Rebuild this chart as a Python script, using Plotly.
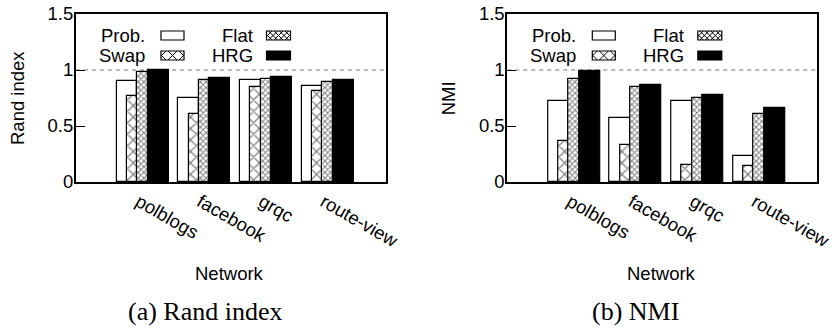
import plotly.graph_objects as go

# ---------------- data ----------------
networks = ["polblogs", "facebook", "grqc", "route-view"]
methods = ["Prob.", "Swap", "Flat", "HRG"]

rand_prob = [0.900, 0.753, 0.908, 0.860]
rand_swap = [0.768, 0.604, 0.848, 0.810]
rand_flat = [0.985, 0.914, 0.920, 0.896]
rand_hrg = [1.000, 0.926, 0.937, 0.911]

nmi_prob = [0.720, 0.574, 0.723, 0.229]
nmi_swap = [0.369, 0.330, 0.152, 0.140]
nmi_flat = [0.920, 0.845, 0.747, 0.604]
nmi_hrg = [0.994, 0.866, 0.774, 0.664]

y_tickvals = [0, 0.5, 1, 1.5]
y_ticktext = ["0", "0.5", "1", "1.5"]

panels = [
    dict(values=[rand_prob, rand_swap, rand_flat, rand_hrg], ytitle="Rand index", caption="(a) Rand index"),
    dict(values=[nmi_prob, nmi_swap, nmi_flat, nmi_hrg], ytitle="NMI", caption="(b) NMI"),
]

# ---------------- layout geometry (pixels) ----------------
W, H = 837, 331
FRAME_L = [76.0, 507.3]
FRAME_W = 309.5
FRAME_T, FRAME_B = 14.0, 182.0
XRANGE = [-1.08, 3.94]
BAR_W = 0.337
STEP = BAR_W / 2
SANS = "Liberation Sans, Arial, sans-serif"
SERIF = "Liberation Serif, Times New Roman, serif"
FS = 18.5


def px(x):
    return x / W


def py(y):
    return 1 - y / H


styles = [
    dict(color="white", pattern=None),
    dict(color="white", pattern=dict(shape="x", size=8.1, solidity=0.28, fgcolor="black", bgcolor="white", fillmode="overlay")),
    dict(color="white", pattern=dict(shape="x", size=4, solidity=0.45, fgcolor="black", bgcolor="white", fillmode="overlay")),
    dict(color="black", pattern=None),
]

fig = go.Figure()
annotations = []
shapes = []


def hatch_path(x0, y0, x1, y1, period):
    cx, cy = (x0 + x1) / 2, (y0 + y1) / 2
    segs = []
    for k in range(-8, 9):
        c = cx - cy + k * period  # x - y = c
        lo, hi = max(x0, y0 + c), min(x1, y1 + c)
        if hi - lo > 0.3:
            segs.append(((lo, lo - c), (hi, hi - c)))
        c2 = cx + cy + k * period  # x + y = c2
        lo, hi = max(x0, c2 - y1), min(x1, c2 - y0)
        if hi - lo > 0.3:
            segs.append(((lo, c2 - lo), (hi, c2 - hi)))
    p = ""
    for (a, b) in segs:
        p += f"M{px(a[0]):.5f},{py(a[1]):.5f} L{px(b[0]):.5f},{py(b[1]):.5f} "
    return p


def text_ann(text, x, y, font, xanchor="center", yanchor="middle", angle=0):
    return dict(text=text, x=px(x), y=py(y), xref="paper", yref="paper",
                xanchor=xanchor, yanchor=yanchor, textangle=angle, showarrow=False,
                font=font)


sans_font = dict(family=SANS, size=FS, color="black")

for i, panel in enumerate(panels):
    xa = "x" if i == 0 else f"x{i+1}"
    ya = "y" if i == 0 else f"y{i+1}"
    for j, (name, vals) in enumerate(zip(methods, panel["values"])):
        st = styles[j]
        marker = dict(color=st["color"], line=dict(color="black", width=1.2))
        if st["pattern"]:
            marker["pattern"] = st["pattern"]
        fig.add_trace(go.Bar(
            x=[k + (j - 1.5) * STEP for k in range(len(networks))],
            y=vals, width=BAR_W, name=name, marker=marker,
            xaxis=xa, yaxis=ya, showlegend=False,
        ))
    L = FRAME_L[i]
    xdom = [px(L), px(L + FRAME_W)]
    ydom = [py(FRAME_B), py(FRAME_T)]
    axis_common = dict(showline=True, linecolor="black", linewidth=2, mirror=True,
                       showgrid=False, zeroline=False, automargin=False,
                       ticklabeloverflow="allow", tickfont=sans_font)
    fig.update_layout({
        ("xaxis" if i == 0 else f"xaxis{i+1}"): dict(
            domain=xdom, range=XRANGE, tickvals=list(range(len(networks))),
            ticktext=networks, tickangle=30, ticks="", anchor=ya,
            ticklabelshift=-4, **axis_common),
        ("yaxis" if i == 0 else f"yaxis{i+1}"): dict(
            domain=ydom, range=[0, 1.5], tickvals=y_tickvals, ticktext=y_ticktext,
            ticks="inside", ticklen=9, tickwidth=1.2, tickcolor="black",
            ticklabelstandoff=-3, anchor=xa, **axis_common),
    })
    # dashed reference line at 1
    shapes.append(dict(type="line", xref=xa, yref=ya, x0=XRANGE[0], x1=XRANGE[1], y0=1, y1=1,
                       line=dict(color="#777777", width=1.2, dash="4px,4px"), layer="below"))
    # axis titles and caption
    annotations.append(text_ann(panel["ytitle"], L - 58, (FRAME_T + FRAME_B) / 2, sans_font, angle=-90))
    annotations.append(text_ann("Network", L + FRAME_W / 2 - 1, 273.5, sans_font))
    cap_x = 205 if i == 0 else 635.8
    annotations.append(text_ann(panel["caption"], cap_x, 311,
                                dict(family=SERIF, size=26, color="black")))
    # manual gnuplot-style key
    rows = [35.5, 55.5]
    cols = [(71, 85, 108), (179, 190.5, 214.5)]
    order = [(0, 0), (1, 0), (0, 1), (1, 1)]  # (row, col) for Prob, Swap, Flat, HRG
    for j, (r, c) in enumerate(order):
        yc = rows[r]
        tx, sx0, sx1 = cols[c]
        annotations.append(text_ann(methods[j], L + tx, yc, sans_font, xanchor="right"))
        bx0, bx1, by0, by1 = L + sx0, L + sx1, yc - 4.5, yc + 4.5
        fill = "black" if j == 3 else "white"
        shapes.append(dict(type="rect", xref="paper", yref="paper", x0=px(bx0), x1=px(bx1),
                           y0=py(by1), y1=py(by0), fillcolor=fill, line=dict(color="black", width=1.2)))
        if j in (1, 2):
            period = 11 if j == 1 else 5.5
            shapes.append(dict(type="path", xref="paper", yref="paper",
                               path=hatch_path(bx0, by0, bx1, by1, period),
                               line=dict(color="black", width=1)))

fig.update_layout(
    template="none",
    width=W, height=H, margin=dict(l=0, r=0, t=0, b=0, autoexpand=False),
    barmode="overlay", bargap=0,
    paper_bgcolor="white", plot_bgcolor="white",
    annotations=annotations, shapes=shapes,
    font=dict(family=SANS, color="black"),
)

fig.write_html("out.html")
